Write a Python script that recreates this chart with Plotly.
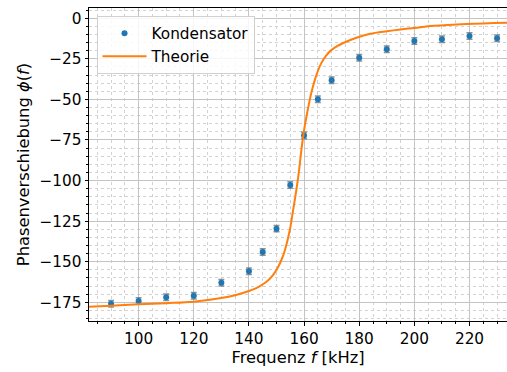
import plotly.graph_objects as go

# Measured data (Kondensator)
freq_khz = [90, 100, 110, 120, 130, 140, 145, 150, 155, 160, 165, 170, 180, 190, 200, 210, 220, 230]
phase_deg = [-175.8, -174.2, -171.9, -170.9, -162.9, -155.9, -144.0, -129.6, -102.7, -72.3,
             -49.9, -38.2, -24.3, -19.1, -14.0, -12.9, -10.9, -12.3]
phase_err = [2, 2, 2, 2, 2, 2, 2, 2, 2, 2, 2, 2, 2, 2, 2, 2, 2, 2]

# Theory curve
theo_f = [82, 90, 100, 110, 120, 130, 135, 140, 142, 144, 146, 147.5, 149, 150.5, 152, 153,
          154.8, 156, 157.2, 158.2, 159, 160, 161, 162, 163, 164, 165, 166.3, 168, 170, 172,
          174, 179, 184, 190, 195, 200, 207, 219, 234]
theo_phi = [-177.7, -177.1, -176.2, -175.5, -174.6, -172.4, -170.6, -168.0, -166.7, -165.0,
            -162.8, -160.6, -157.6, -153.6, -148.0, -143.2, -130.8, -118.5, -105.8, -93.5,
            -81.5, -69.0, -59.5, -50.8, -43.5, -37.5, -32.5, -27.5, -23.0, -19.5, -17.2,
            -15.4, -12.0, -9.6, -8.0, -6.9, -6.0, -4.7, -3.5, -2.7]

fs = 15.3
axis_font = dict(family="DejaVu Sans", size=fs, color="black")
title_font = dict(family="DejaVu Sans", size=16.3, color="black")

fig = go.Figure()
fig.add_trace(go.Scatter(
    x=freq_khz, y=phase_deg, mode="markers", name="Kondensator",
    marker=dict(color="#1f77b4", size=6),
    error_y=dict(type="data", array=phase_err, visible=True,
                 color="rgba(110,110,110,0.75)", thickness=1.5, width=3),
))
fig.add_trace(go.Scatter(
    x=theo_f, y=theo_phi, mode="lines", name="Theorie",
    line=dict(color="#ff7f0e", width=2, shape="spline", smoothing=1.0),
))

fig.update_layout(
    width=507, height=372,
    margin=dict(l=89, r=0, t=8, b=51),
    paper_bgcolor="white", plot_bgcolor="white",
    font=axis_font,
    showlegend=True,
    legend=dict(x=0.018, y=0.975, xanchor="left", yanchor="top",
                bgcolor="rgba(255,255,255,0.85)", bordercolor="#d0d0d0", borderwidth=1,
                font=dict(family="DejaVu Sans", size=fs), itemwidth=44,
                tracegroupgap=0),
    xaxis=dict(
        range=[82.0, 233.6], tickmode="array", tickvals=[100, 120, 140, 160, 180, 200, 220],
        ticks="outside", ticklen=3.5, tickwidth=1, tickcolor="black",
        showline=True, linecolor="black", linewidth=1, mirror=True,
        showgrid=True, gridcolor="#c4c4c4", gridwidth=1, zeroline=False,
        minor=dict(dtick=5, tick0=0, ticks="outside", ticklen=2, tickcolor="black",
                   showgrid=True, gridcolor="#d2d2d2", griddash="dot", gridwidth=1),
        title=dict(text="Frequenz <i>f</i> [kHz]", font=title_font, standoff=3),
        tickfont=axis_font,
    ),
    yaxis=dict(
        range=[-186.5, 6.3], tickmode="array", tickvals=[0, -25, -50, -75, -100, -125, -150, -175],
        ticks="outside", ticklen=3.5, tickwidth=1, tickcolor="black",
        showline=True, linecolor="black", linewidth=1, mirror=False,
        showgrid=True, gridcolor="#c4c4c4", gridwidth=1, zeroline=False,
        minor=dict(dtick=5, tick0=0, ticks="outside", ticklen=2, tickcolor="black",
                   showgrid=True, gridcolor="#d2d2d2", griddash="dot", gridwidth=1),
        title=dict(text="Phasenverschiebung <i>ϕ</i>(<i>f</i>)", font=title_font, standoff=5),
        tickfont=axis_font,
    ),
)

fig.write_html("out.html")
